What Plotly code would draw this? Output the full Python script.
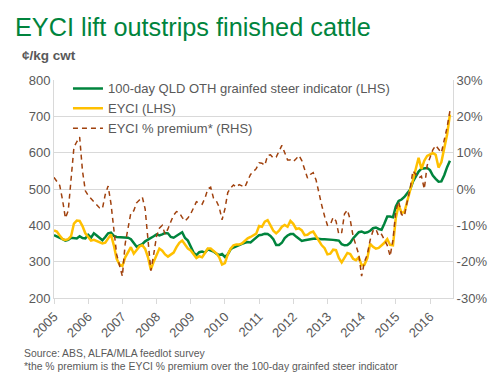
import plotly.graph_objects as go

# monthly observations, Jan 2005 .. Aug 2016
start_year = 2005
grainfed = [373, 370, 367, 362, 358, 360, 366, 364, 364, 370, 365, 364,
            374, 366, 378, 372, 366, 359, 368, 378, 380, 371, 368, 368,
            368, 367, 366, 362, 350, 341, 345, 348, 356, 360, 366, 370,
            375, 372, 375, 379, 378, 368, 366, 370, 376, 381, 365, 358,
            340, 325, 318, 326, 328, 325, 334, 332, 328, 322, 318, 321,
            313, 320, 334, 339, 343, 347, 349, 352, 354, 353, 360, 368,
            373, 374, 377, 376, 371, 362, 346, 346, 352, 365, 372, 376,
            376, 369, 362, 357, 359, 361, 362, 363, 364, 362, 362, 362,
            362, 361, 360, 359, 358, 348, 345, 346, 352, 364, 374, 381,
            383, 379, 381, 385, 392, 394, 390, 388, 405, 424, 424, 422,
            452, 467, 471, 478, 488, 498, 520, 535, 548, 556, 557, 558,
            552, 537, 528, 520, 521, 538, 560, 578]
eyci = [386, 383, 372, 362, 360, 362, 370, 405, 413, 412, 398, 378,
        368, 358, 360, 356, 353, 350, 352, 362, 375, 345, 308, 292,
        288, 312, 328, 340, 322, 333, 342, 345, 335, 312, 278, 300,
        316, 336, 330, 320, 314, 320, 325, 340, 352, 358, 346, 336,
        331, 322, 310, 315, 312, 324, 336, 336, 330, 323, 312, 292,
        296, 320, 336, 345, 347, 347, 350, 357, 364, 368, 372, 377,
        398, 396, 410, 414, 400, 385, 378, 385, 396, 401, 396, 412,
        404, 390, 392, 386, 373, 374, 380, 383, 370, 357, 345, 337,
        320, 322, 333, 332, 310, 298, 312, 324, 321, 308, 304, 312,
        290, 292, 310, 349, 341, 336, 338, 345, 352, 362, 346, 345,
        420, 456, 435, 436, 470, 496, 524, 552, 586, 555, 578, 591,
        595, 599, 594, 559, 574, 612, 650, 705]
premium = [3.2, 2.2, 1.0, -3.0, -8.0, -6.0, 3.0, 11.5, 13.0, 14.3, 5.0, -0.5,
           -1.8, -2.7, -3.5, -4.5, -5.2, -5.4, -1.5, 0.8, -4.0, -11.0, -18.0, -21.0,
           -24.0, -15.0, -11.0, -6.5, -6.0, -3.8, -3.0, -2.2, -5.5, -14.0, -22.5, -18.0,
           -13.0, -10.8, -10.0, -12.5, -11.0, -9.0, -7.2, -6.2, -6.5, -7.8, -8.8, -8.0,
           -6.8, -5.2, -3.5, -3.9, -4.2, -2.5, 0.0, 0.5, -2.5, -3.3, -5.0, -8.5,
           -5.5, -1.0, 0.3, 1.1, 0.5, 1.2, 0.8, 0.5, 2.3, 4.0, 4.8, 5.6,
           7.2, 7.1, 6.5, 9.2, 9.4, 8.5, 8.8, 10.5, 12.0, 10.0, 8.0, 8.0,
           7.5, 8.3, 9.2, 7.8, 5.5, 3.0, 4.0, 4.5, 2.5, -1.2, -4.5, -7.5,
           -10.0, -9.8, -7.8, -8.8, -12.5, -12.0, -6.8, -5.8, -8.5, -13.0, -15.5, -18.0,
           -24.0, -20.0, -18.0, -14.0, -11.5, -11.0, -13.0, -12.5, -14.0, -15.5, -18.5, -14.0,
           -6.0, -3.4, -7.0, -7.5, -3.5, 0.0, 5.0, 4.0, 3.0, 3.5, 0.0, 6.5,
           8.8, 10.8, 12.0, 11.0, 10.0, 13.5, 17.0, 21.5]
year_ticks = list(range(2005, 2017))
year_labels = [str(y) for y in year_ticks]
lhs_ticks = [200, 300, 400, 500, 600, 700, 800]
rhs_ticks = [-30, -20, -10, 0, 10, 20, 30]
rhs_labels = ["-30%", "-20%", "-10%", "0%", "10%", "20%", "30%"]

x = [start_year + i / 12 for i in range(len(grainfed))]

GREY = "#595959"
GRID = "#D9D9D9"
FONT = "Liberation Sans, Arial, sans-serif"

fig = go.Figure()
fig.add_trace(go.Scatter(x=x, y=grainfed, mode="lines",
                         name="100-day QLD OTH grainfed steer indicator (LHS)",
                         line=dict(color="#00843D", width=2.5)))
fig.add_trace(go.Scatter(x=x, y=eyci, mode="lines", name="EYCI (LHS)",
                         line=dict(color="#FFC000", width=2.5)))
fig.add_trace(go.Scatter(x=x, y=premium, mode="lines", name="EYCI % premium* (RHS)",
                         yaxis="y2",
                         line=dict(color="#A0410D", width=1.5, dash="5px,4px")))

fig.update_layout(
    width=500, height=379,
    margin=dict(l=54, r=47, t=80, b=81),
    paper_bgcolor="white", plot_bgcolor="white",
    font=dict(family=FONT, size=13, color=GREY),
    title=dict(text="EYCI lift outstrips finished cattle", x=0.03, xanchor="left",
               y=0.929, yanchor="middle",
               font=dict(family=FONT, size=25.3, color="#00843D")),
    showlegend=True,
    legend=dict(x=0.035, xanchor="left", y=1.03, yanchor="top",
                bgcolor="rgba(0,0,0,0)", font=dict(size=13, color=GREY),
                itemwidth=30, tracegroupgap=0),
    xaxis=dict(range=[2005, 2016.673], tickmode="array", tickvals=year_ticks,
               ticktext=year_labels, tickangle=-45, showgrid=False,
               showline=True, linecolor=GRID, linewidth=1,
               ticks="outside", ticklen=5, tickcolor=GRID,
               tickfont=dict(size=13, color=GREY), zeroline=False),
    yaxis=dict(range=[200, 800], tickmode="array", tickvals=lhs_ticks,
               showgrid=True, gridcolor=GRID, showline=True, linecolor=GRID,
               tickfont=dict(size=13, color=GREY), zeroline=False, ticks=""),
    yaxis2=dict(range=[-30, 30], overlaying="y", side="right", tickmode="array",
                tickvals=rhs_ticks, ticktext=rhs_labels, showgrid=False,
                showline=True, linecolor=GRID,
                tickfont=dict(size=13, color=GREY), zeroline=False, ticks=""),
    annotations=[
        dict(text="<b>¢/kg cwt</b>", xref="paper", yref="paper", x=-0.085, y=1.112,
             xanchor="left", yanchor="middle", showarrow=False,
             font=dict(size=13.5, color=GREY)),
        dict(text="Source: ABS, ALFA/MLA feedlot survey", xref="paper", yref="paper",
             x=-0.08, y=-0.256, xanchor="left", yanchor="middle", showarrow=False,
             font=dict(size=10.4, color=GREY)),
        dict(text="*the % premium is the EYCI % premium over the 100-day grainfed steer indicator",
             xref="paper", yref="paper", x=-0.08, y=-0.316, xanchor="left",
             yanchor="middle", showarrow=False, font=dict(size=10.4, color=GREY)),
    ],
)

fig.write_html("out.html", config={"displayModeBar": False},
               post_script="document.body.style.margin='0';document.body.style.overflow='hidden';")
